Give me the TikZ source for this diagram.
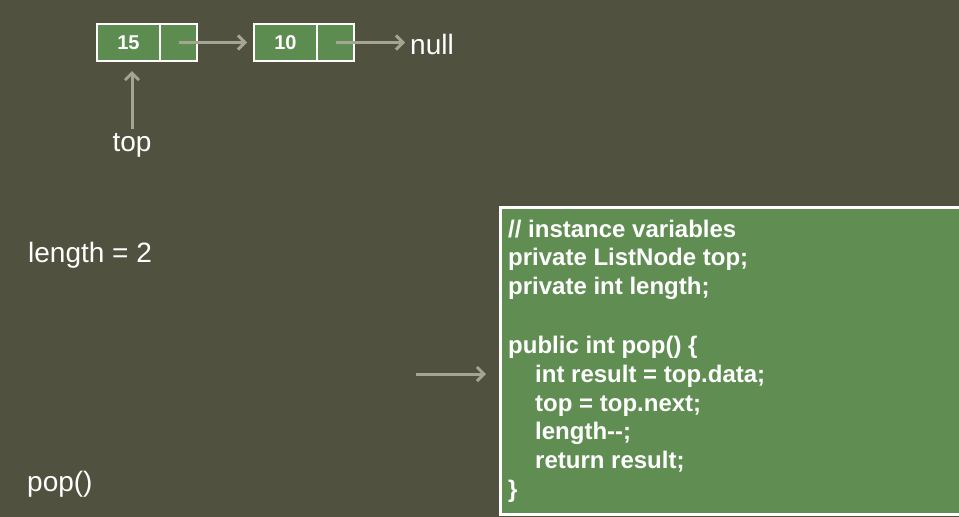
\documentclass[tikz,border=0pt]{standalone}
\usepackage{fontspec}
\setmainfont{Liberation Sans}
\usetikzlibrary{positioning,arrows.meta}
\definecolor{slidebg}{RGB}{81,81,64}
\definecolor{cellgreen}{RGB}{92,140,80}
\definecolor{codegreen}{RGB}{96,142,82}
\definecolor{ptrgray}{RGB}{165,165,148}
\tikzset{
  datacell/.style={draw=white,line width=2.5pt,fill=cellgreen,minimum width=63pt,
    minimum height=37pt,inner sep=0pt,outer sep=0pt,text=white,
    font=\fontsize{20}{24}\selectfont\bfseries},
  nextcell/.style={datacell,minimum width=37pt},
  label/.style={text=white,inner sep=0pt,font=\fontsize{28}{32}\selectfont},
  ptr/.style={ptrgray,line width=3pt,-{Straight Barb[length=7pt,width=14pt]}},
}
\begin{document}
\begin{tikzpicture}[x=1pt,y=-1pt]
 \useasboundingbox (0,0) rectangle (959,517);
 \fill[slidebg] (0,0) rectangle (959,517);
 % list nodes
 \node[datacell] (n15) at (128.5,42.5) {15};
 \node[nextcell,right=0pt of n15] (n15next) {};
 \node[datacell,right=57pt of n15next] (n10) {10};
 \node[nextcell,right=0pt of n10] (n10next) {};
 \node[label,anchor=base west] (null) at (410,54) {null};
 \node[label,anchor=base] (top) at (132,151) {top};
 \draw[ptr,shorten >=7pt] (n15next.center) -- (n10.west);
 \draw[ptr,shorten >=5pt] (n10next.center) -- (n10next.center -| null.west);
 \draw[ptr,shorten <=4pt,shorten >=10pt] (top.north) -- (top.north |- n15.south);
 % state
 \node[label,anchor=base west] (len) at (28,262) {length = 2};
 \node[label,anchor=base west] (call) at (27,491) {pop()};
 % code
 \node[draw=white,line width=3pt,fill=codegreen,anchor=north west,inner sep=0pt,
   minimum width=480pt,minimum height=307pt] (code) at (499,206) {};
 \node[text=white,anchor=north west,inner sep=0pt,align=left,
   font=\fontsize{24}{28.8}\selectfont\bfseries] (codetext) at (508,219.5)
  {// instance variables\\
   private ListNode top;\\
   private int length;\\[30pt]
   public int pop() \{\\
   \hspace*{27pt}int result = top.data;\\
   \hspace*{27pt}top = top.next;\\
   \hspace*{27pt}length-{}-;\\
   \hspace*{27pt}return result;\\
   \}};
 \coordinate (cur) at (416,374);
 \draw[ptr,shorten >=13pt] (cur) -- (cur -| code.west);
\end{tikzpicture}
\end{document}
